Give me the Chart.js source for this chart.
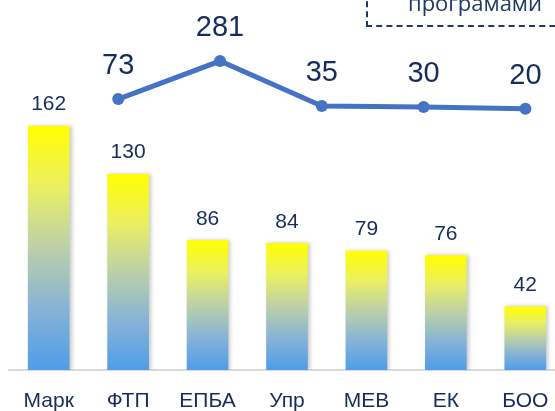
<!DOCTYPE html>
<html>
<head>
<meta charset="utf-8">
<script src="https://cdn.jsdelivr.net/npm/chart.js@4.4.1/dist/chart.umd.min.js"></script>
<style>
  html, body { margin: 0; padding: 0; background: #fff; overflow: hidden; }
  #wrap { position: relative; width: 555px; height: 411px; overflow: hidden; }
  #wrap canvas { position: absolute; left: 0; top: 0; }
  #note {
    position: absolute; left: 366px; top: -38px; width: 220px; height: 65px;
    border: 2px dashed #1F3864; box-sizing: border-box;
    font: 22px "Open Sans", sans-serif; color: #1F3864;
  }
  #note span { position: absolute; left: 0; width: 214px; bottom: 12px; text-align: center; line-height: 22px; }
</style>
</head>
<body>
<div id="wrap">
  <canvas id="chart" width="575" height="411"></canvas>
  <div id="note"><span>програмами</span></div>
</div>
<script>
// categories under the bars
const categories = ['Марк', 'ФТП', 'ЕПБА', 'Упр', 'МЕВ', 'ЕК', 'БОО'];
// bar values
const barValues = [162, 130, 86, 84, 79, 76, 42];
// line values (own horizontal spacing, 5 points)
const lineValues = [73, 281, 35, 30, 20];
const lineIndex = [0, 1, 2, 3, 4];

const navy = '#172C5C';
const lineBlue = '#4472C4';

// gradient per bar: yellow on top, blue at the base
function barGradient(c) {
  const chart = c.chart;
  if (!chart.chartArea || c.raw === undefined) return '#4E9DE8';
  const y = chart.scales.y;
  const top = y.getPixelForValue(c.raw);
  const bottom = y.getPixelForValue(0);
  const g = chart.ctx.createLinearGradient(0, top, 0, bottom);
  g.addColorStop(0, '#FFFF00');
  g.addColorStop(0.25, '#EAEF62');
  g.addColorStop(0.5, '#BBD0A8');
  g.addColorStop(0.75, '#86B3D6');
  g.addColorStop(1, '#4E9DE8');
  return g;
}

// soft shadow behind the bars
const barShadow = {
  id: 'barShadow',
  beforeDatasetDraw(chart, args) {
    if (args.meta.type !== 'bar') return;
    const ctx = chart.ctx;
    ctx.save();
    ctx.shadowColor = 'rgba(0,0,0,0.22)';
    ctx.shadowBlur = 4;
    ctx.shadowOffsetX = 2;
    ctx.shadowOffsetY = 0;
  },
  afterDatasetDraw(chart, args) {
    if (args.meta.type !== 'bar') return;
    chart.ctx.restore();
  }
};

// numbers above bars and points
const valueLabels = {
  id: 'valueLabels',
  afterDatasetsDraw(chart) {
    const ctx = chart.ctx;
    chart.data.datasets.forEach((ds, i) => {
      const meta = chart.getDatasetMeta(i);
      const isLine = meta.type === 'line';
      ctx.save();
      ctx.fillStyle = navy;
      ctx.textAlign = 'center';
      ctx.textBaseline = 'alphabetic';
      ctx.font = isLine ? '29px "Liberation Sans"' : '21px "Liberation Sans"';
      const gap = isLine ? 25 : 16;
      meta.data.forEach((el, j) => {
        const v = isLine ? ds.data[j].y : ds.data[j];
        ctx.fillText(String(v), el.x, el.y - gap);
      });
      ctx.restore();
    });
  }
};

new Chart(document.getElementById('chart'), {
  data: {
    labels: categories,
    datasets: [
      {
        type: 'line',
        data: lineIndex.map((x, i) => ({ x: x, y: lineValues[i] })),
        xAxisID: 'x2',
        yAxisID: 'y2',
        borderColor: lineBlue,
        borderWidth: 5,
        pointRadius: 6,
        pointBackgroundColor: lineBlue,
        pointBorderWidth: 0,
        tension: 0,
        order: 0
      },
      {
        type: 'bar',
        data: barValues,
        xAxisID: 'x',
        yAxisID: 'y',
        backgroundColor: barGradient,
        grouped: false,
        categoryPercentage: 1,
        barPercentage: 1,
        maxBarThickness: 41,
        order: 1
      }
    ]
  },
  options: {
    responsive: false,
    animation: false,
    layout: { padding: { left: 9, right: 10, top: 10, bottom: 0 } },
    plugins: { legend: { display: false }, tooltip: { enabled: false } },
    scales: {
      x: {
        type: 'category',
        grid: { display: true, drawOnChartArea: false, drawTicks: true, tickLength: 19, color: 'rgba(0,0,0,0)' },
        border: { display: true, color: '#D9D9D9', width: 2 },
        ticks: { color: navy, font: { family: 'Liberation Sans', size: 21 }, padding: 0, maxRotation: 0, autoSkip: false },
        afterFit(axis) { axis.height = 41; }
      },
      x2: { type: 'linear', display: false, min: -1.073, max: 4.389 },
      y: { display: false, min: 0, max: 239.2 },
      y2: { display: false, min: -1408, max: 560 }
    }
  },
  plugins: [barShadow, valueLabels]
});
</script>
</body>
</html>
